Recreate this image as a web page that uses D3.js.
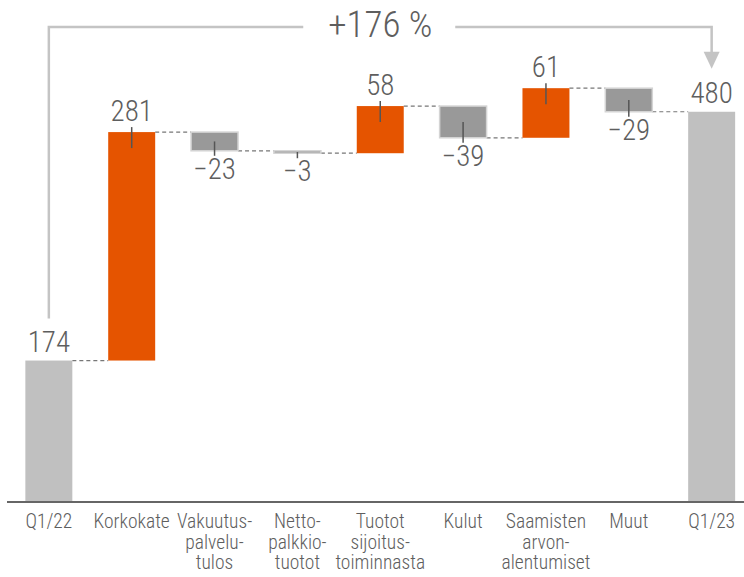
<!DOCTYPE html>
<html>
<head>
<meta charset="utf-8">
<script src="https://cdn.jsdelivr.net/npm/d3@7"></script>
<style>
  body { margin: 0; background: #fff; }
  text { font-family: "Liberation Sans Narrow", "Roboto Condensed", "DejaVu Sans Condensed", sans-serif; font-weight: 300; fill: #5e5e5e; }
</style>
</head>
<body>
<svg id="chart" width="744" height="577"></svg>
<script>
// categories (label lines split where the original hyphenates)
const categories = ['Q1/22', 'Korkokate', 'Vakuutus', 'Netto', 'Tuotot', 'Kulut', 'Saamisten', 'Muut', 'Q1/23']
const catLabels = [
  ['Q1/22'], ['Korkokate'], ['Vakuutus-', 'palvelu-', 'tulos'], ['Netto-', 'palkkio-', 'tuotot'],
  ['Tuotot', 'sijoitus-', 'toiminnasta'], ['Kulut'], ['Saamisten', 'arvon-', 'alentumiset'], ['Muut'], ['Q1/23']
]
const values = [174, 281, -23, -3, 58, -39, 61, -29, 480]
const isTotal = [true, false, false, false, false, false, false, false, true]
const changeLabel = '+176 %'

// running totals for the waterfall
let run = 0
const bars = values.map((v, i) => {
  let y0, y1
  if (isTotal[i]) { y0 = 0; y1 = v; run = v }
  else { y0 = run; y1 = run + v; run = y1 }
  return { cat: categories[i], v, y0, y1, total: isTotal[i], end: run }
})

const svg = d3.select('#chart')
const x = d3.scaleBand().domain(categories).range([0.5, 760]).paddingInner(0.433).paddingOuter(0.3)
const y = d3.scaleLinear().domain([0, 500]).range([502, 95.5])
const bw = x.bandwidth()

const ORANGE = '#e55400', NEG = '#999999', TOT = '#c0c0c0'

// connectors
svg.append('g').selectAll('line')
  .data(bars.slice(0, -1))
  .enter().append('line')
  .attr('x1', d => x(d.cat) + bw)
  .attr('x2', (d, i) => x(categories[i + 1]))
  .attr('y1', d => y(d.end)).attr('y2', d => y(d.end))
  .attr('stroke', '#777').attr('stroke-width', 1.2).attr('stroke-dasharray', '4,3')

// bars
svg.append('g').selectAll('rect')
  .data(bars)
  .enter().append('rect')
  .attr('x', d => x(d.cat))
  .attr('width', bw)
  .attr('y', d => y(Math.max(d.y0, d.y1)))
  .attr('height', d => Math.abs(y(d.y0) - y(d.y1)))
  .attr('fill', d => d.total ? TOT : (d.v > 0 ? ORANGE : NEG))
  .attr('stroke', d => (!d.total && d.v < 0) ? '#d4d4d4' : 'none')
  .attr('stroke-width', 1.5)

// axis baseline
svg.append('line')
  .attr('x1', 7).attr('x2', 744).attr('y1', y(0)).attr('y2', y(0))
  .attr('stroke', '#666').attr('stroke-width', 2)

// value tick marks for the changes
const changes = bars.filter(d => !d.total)
svg.append('g').selectAll('line')
  .data(changes)
  .enter().append('line')
  .attr('x1', d => x(d.cat) + bw / 2).attr('x2', d => x(d.cat) + bw / 2)
  .attr('y1', d => {
    const h = Math.abs(y(d.y0) - y(d.y1))
    return d.v > 0 ? y(d.y1) - 5 : y(d.y1) - Math.min(16, h / 2)
  })
  .attr('y2', d => {
    const h = Math.abs(y(d.y0) - y(d.y1))
    return d.v > 0 ? y(d.y1) + Math.min(16, h / 2) : y(d.y1) + 5
  })
  .attr('stroke', '#555').attr('stroke-width', 1.5)

// value labels
svg.append('g').selectAll('text')
  .data(bars)
  .enter().append('text')
  .attr('x', d => x(d.cat) + bw / 2)
  .attr('y', d => {
    if (d.total) return y(d.y1) - 9
    return d.v > 0 ? y(d.y1) - 11 : y(d.y1) + 28
  })
  .attr('text-anchor', 'middle')
  .style('font-size', '29px')
  .text(d => d.v > 0 ? d.v : '\u2212' + Math.abs(d.v))

// category labels, one text per line
const catG = svg.append('g').selectAll('g')
  .data(catLabels)
  .enter().append('g')
  .attr('transform', (d, i) => `translate(${x(categories[i]) + bw / 2},528)`)
catG.selectAll('text')
  .data(d => d)
  .enter().append('text')
  .attr('text-anchor', 'middle')
  .style('font-size', '19.5px')
  .attr('y', (d, i) => i * 20.5)
  .text(d => d)

// growth bracket
const xa = x(categories[0]) + bw / 2
const xb = x(categories[8]) + bw / 2
const topY = 27, midX = (xa + xb) / 2
const br = svg.append('g').attr('fill', 'none').attr('stroke', '#c4c4c4').attr('stroke-width', 2.5)
br.append('path').attr('d', `M${xa},${y(values[0]) - 42}V${topY}H${midX - 77}`)
br.append('path').attr('d', `M${midX + 75},${topY}H${xb}V${y(values[8]) - 58}`)
svg.append('path')
  .attr('d', `M${xb - 8},${y(values[8]) - 60}L${xb + 8},${y(values[8]) - 60}L${xb},${y(values[8]) - 43}Z`)
  .attr('fill', '#c4c4c4')
svg.append('text')
  .attr('x', midX).attr('y', 37)
  .attr('text-anchor', 'middle')
  .style('font-size', '37px')
  .text(changeLabel)
</script>
</body>
</html>
